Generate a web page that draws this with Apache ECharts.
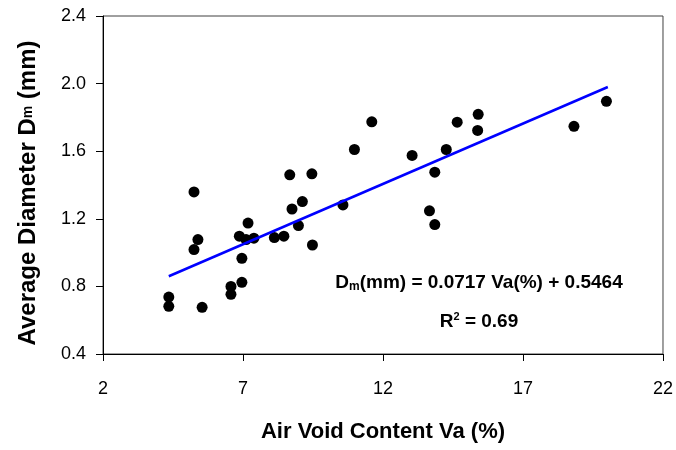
<!DOCTYPE html>
<html lang="en">
<head>
    <meta charset="UTF-8">
    <title>Dm vs Va</title>
    <script src="https://cdn.jsdelivr.net/npm/echarts@6/dist/echarts.min.js"></script>
    <style>
        body { margin: 0; background: #fff; }
    </style>
</head>
<body>
<div id="main" style="width:676px; height:450px;"></div>
</body>
<script type="text/javascript">

    // tick values of both axes
    const xTicks = [2, 7, 12, 17, 22];
    const yTicks = [0.4, 0.8, 1.2, 1.6, 2.0, 2.4];

    // measured points: air void content Va (%) and average diameter Dm (mm)
    const airVoid = [4.35, 4.35, 5.54, 5.25, 5.39, 5.25, 6.57, 6.57, 6.96, 6.96,
        6.87, 7.11, 7.18, 7.39, 8.12, 8.46, 8.67, 9.46, 8.75, 9.12,
        8.98, 9.48, 11.60, 10.98, 10.57, 13.04, 14.65, 14.26, 13.85, 13.66,
        13.85, 15.40, 15.38, 18.82, 19.98];
    const diameter = [0.737, 0.682, 0.676, 1.359, 1.077, 1.018, 0.800, 0.753, 0.824, 0.966,
        1.097, 1.077, 1.175, 1.085, 1.089, 1.097, 1.460, 1.466, 1.258, 1.302,
        1.160, 1.045, 1.774, 1.610, 1.282, 1.575, 1.772, 1.610, 1.476, 1.247,
        1.166, 1.818, 1.723, 1.747, 1.895];

    // linear trend line ends
    const trendX = [4.35, 20.03];
    const trendY = [0.86, 1.98];

    const font = 'Liberation Sans';

    let myChart = echarts.init(document.getElementById('main'));

    let option = {
        animation: false,
        textStyle: { fontFamily: font },
        grid: {
            left: 103, right: 12, top: 16, bottom: 96,
            show: true, borderColor: '#404040', borderWidth: 1
        },
        xAxis: {
            type: 'value',
            min: xTicks[0],
            max: xTicks[xTicks.length - 1],
            splitLine: { show: false },
            axisLine: { show: true, onZero: false, lineStyle: { color: '#000', width: 1 } },
            axisTick: { show: true, length: 7, customValues: xTicks, lineStyle: { color: '#000' } },
            axisLabel: { customValues: xTicks, fontSize: 18, color: '#000', margin: 26, fontFamily: font },
            name: 'Air Void Content Va (%)',
            nameLocation: 'middle',
            nameGap: 67,
            nameTextStyle: { fontSize: 22, fontWeight: 'bold', color: '#000', fontFamily: font }
        },
        yAxis: {
            type: 'value',
            min: yTicks[0],
            max: yTicks[yTicks.length - 1],
            splitLine: { show: false },
            axisLine: { show: true, onZero: false, lineStyle: { color: '#000', width: 1 } },
            axisTick: { show: true, length: 7, customValues: yTicks, lineStyle: { color: '#000' } },
            axisLabel: {
                customValues: yTicks, fontSize: 18, color: '#000', margin: 17, fontFamily: font,
                formatter: function (v) { return v.toFixed(1); }
            },
            name: 'Average Diameter D{s|m} (mm)',
            nameLocation: 'middle',
            nameGap: 63,
            nameTextStyle: {
                fontSize: 24, fontWeight: 'bold', color: '#000', fontFamily: font,
                padding: [0, 16, 0, 0],
                rich: { s: { fontSize: 14, fontWeight: 'bold', color: '#000', fontFamily: font } }
            }
        },
        series: [{
            type: 'scatter',
            data: airVoid.map(function (x, i) { return [x, diameter[i]]; }),
            symbol: 'circle',
            symbolSize: 11,
            itemStyle: { color: '#000', opacity: 1 }
        }, {
            type: 'line',
            data: trendX.map(function (x, i) { return [x, trendY[i]]; }),
            showSymbol: false,
            lineStyle: { color: '#0000ff', width: 2.5 }
        }],
        graphic: [{
            type: 'text',
            x: 479, y: 283,
            style: {
                text: '{b|D}{sub|m}{b|(mm) = 0.0717 Va(%) + 0.5464}',
                align: 'center', verticalAlign: 'middle',
                rich: {
                    b: { fontSize: 19, fontWeight: 'bold', fill: '#000', fontFamily: font, lineHeight: 20, verticalAlign: 'top' },
                    sub: { fontSize: 12, fontWeight: 'bold', fill: '#000', fontFamily: font, lineHeight: 7, verticalAlign: 'bottom' }
                }
            }
        }, {
            type: 'text',
            x: 479, y: 321,
            style: {
                text: '{b|R}{sup|2}{b| = 0.69}',
                align: 'center', verticalAlign: 'middle',
                rich: {
                    b: { fontSize: 19, fontWeight: 'bold', fill: '#000', fontFamily: font, lineHeight: 20, verticalAlign: 'bottom' },
                    sup: { fontSize: 11, fontWeight: 'bold', fill: '#000', fontFamily: font, lineHeight: 7, verticalAlign: 'top' }
                }
            }
        }]
    };

    myChart.setOption(option);
</script>
</html>
